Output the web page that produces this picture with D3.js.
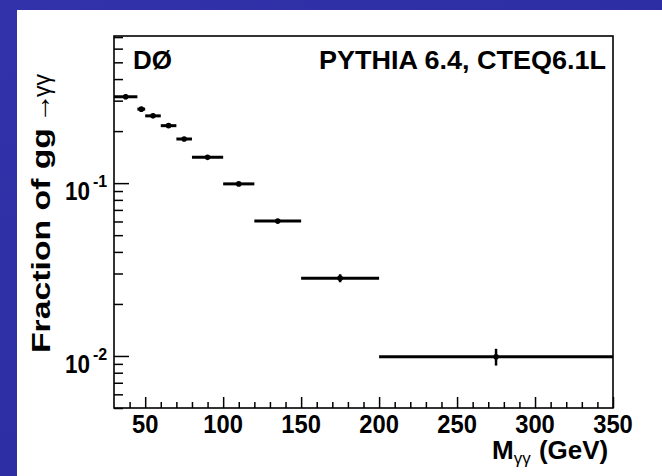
<!DOCTYPE html>
<html>
<head>
<meta charset="utf-8">
<script src="https://d3js.org/d3.v7.min.js"></script>
<style>
  body { margin: 0; background: #2b2ba0; }
  svg { display: block; }
  text { font-family: "Liberation Sans", Arial, sans-serif; fill: #000; }
</style>
</head>
<body>
<script>
// bins of M_gg (GeV) and fraction of gg -> gamma gamma
var binLo = [30, 45, 50, 60, 70, 80, 100, 120, 150, 200];
var binHi = [45, 50, 60, 70, 80, 100, 120, 150, 200, 350];
var frac = [0.316, 0.268, 0.245, 0.215, 0.180, 0.141, 0.099, 0.0603, 0.0282, 0.0099];
var fracErr = [0.010, 0.008, 0.007, 0.006, 0.004, 0.003, 0.002, 0.0012, 0.0015, 0.0011];

var xMajor = [50, 100, 150, 200, 250, 300, 350];
var yMajor = [0.01, 0.1];
var yMajorExp = ["-2", "-1"];

var width = 662, height = 476;
var plotL = 114, plotT = 36, plotR = 613, plotB = 408;

var svg = d3.select("body").append("svg")
  .attr("width", width).attr("height", height);

// slide background
var defs = svg.append("defs");
var grad = defs.append("linearGradient").attr("id", "bg")
  .attr("x1", 0).attr("y1", 0).attr("x2", 1).attr("y2", 1);
grad.append("stop").attr("offset", "0%").attr("stop-color", "#3232aa");
grad.append("stop").attr("offset", "100%").attr("stop-color", "#28289e");
svg.append("rect").attr("width", width).attr("height", height).attr("fill", "url(#bg)");
svg.append("rect").attr("x", 17).attr("y", 10)
  .attr("width", width - 17).attr("height", height - 10).attr("fill", "#fff");

var x = d3.scaleLinear().domain([30, 350]).range([plotL, plotR]);
var y = d3.scaleLog().domain([0.005, 0.71]).range([plotB, plotT]);

// minor ticks
var xMinor = d3.range(40, 350, 10).filter(function(v) { return xMajor.indexOf(v) < 0; });
var yMinor = [];
[0.001, 0.01, 0.1].forEach(function(d) {
  for (var k = 2; k <= 9; k++) {
    var v = +(d * k).toPrecision(3);
    if (v >= 0.005 && v <= 0.71) yMinor.push(v);
  }
});

var g = svg.append("g");

g.append("g").attr("transform", "translate(0," + plotB + ")")
  .call(d3.axisBottom(x).tickValues(xMinor).tickSize(-6).tickFormat(""))
  .call(function(a) { a.select(".domain").remove(); });
g.append("g").attr("transform", "translate(0," + plotB + ")")
  .call(d3.axisBottom(x).tickValues(xMajor).tickSize(-11).tickFormat(""))
  .call(function(a) { a.select(".domain").remove(); });
g.append("g").attr("transform", "translate(" + plotL + ",0)")
  .call(d3.axisLeft(y).tickValues(yMinor).tickSize(-9).tickFormat(""))
  .call(function(a) { a.select(".domain").remove(); });
g.append("g").attr("transform", "translate(" + plotL + ",0)")
  .call(d3.axisLeft(y).tickValues(yMajor).tickSize(-15).tickFormat(""))
  .call(function(a) { a.select(".domain").remove(); });
g.selectAll(".tick line").attr("stroke", "#000").attr("stroke-width", 1.5);

// frame
g.append("rect").attr("x", plotL).attr("y", plotT)
  .attr("width", plotR - plotL).attr("height", plotB - plotT)
  .attr("fill", "none").attr("stroke", "#000").attr("stroke-width", 1.6);

// x tick labels
g.selectAll(".xlab").data(xMajor).enter().append("text")
  .attr("x", function(d) { return x(d) - String(d).length * 6.6; })
  .attr("y", 433)
  .attr("font-size", 26.5).attr("font-weight", "bold")
  .attr("textLength", function(d) { return String(d).length * 13.2; })
  .attr("lengthAdjust", "spacingAndGlyphs")
  .text(function(d) { return d; });

// y tick labels 10^n
yMajor.forEach(function(v, i) {
  g.append("text")
    .attr("x", 65).attr("y", y(v) + 17)
    .attr("font-size", 26.5).attr("font-weight", "bold")
    .attr("textLength", 25).attr("lengthAdjust", "spacingAndGlyphs")
    .text("10");
  g.append("text")
    .attr("x", 93).attr("y", y(v) + 4)
    .attr("font-size", 16).attr("font-weight", "bold")
    .text(yMajorExp[i]);
});

// data: horizontal bin bars, vertical errors, markers
var pts = g.append("g");
pts.selectAll(".hbar").data(frac).enter().append("line")
  .attr("x1", function(d, i) { return x(binLo[i]); })
  .attr("x2", function(d, i) { return x(binHi[i]); })
  .attr("y1", function(d) { return y(d); })
  .attr("y2", function(d) { return y(d); })
  .attr("stroke", "#000").attr("stroke-width", 3);
pts.selectAll(".vbar").data(frac).enter().append("line")
  .attr("x1", function(d, i) { return x((binLo[i] + binHi[i]) / 2); })
  .attr("x2", function(d, i) { return x((binLo[i] + binHi[i]) / 2); })
  .attr("y1", function(d, i) { return y(d - fracErr[i]); })
  .attr("y2", function(d, i) { return y(d + fracErr[i]); })
  .attr("stroke", "#000").attr("stroke-width", 2.5);
pts.selectAll("circle").data(frac).enter().append("circle")
  .attr("cx", function(d, i) { return x((binLo[i] + binHi[i]) / 2); })
  .attr("cy", function(d) { return y(d); })
  .attr("r", 2.8).attr("fill", "#000");

// labels in the frame
g.append("text").attr("x", 133).attr("y", 69)
  .attr("font-size", 26).attr("font-weight", "bold")
  .attr("textLength", 39).attr("lengthAdjust", "spacingAndGlyphs")
  .text("DØ");
g.append("text").attr("x", 319).attr("y", 69)
  .attr("font-size", 26).attr("font-weight", "bold")
  .attr("textLength", 287).attr("lengthAdjust", "spacingAndGlyphs")
  .text("PYTHIA 6.4, CTEQ6.1L");

// axis titles
var xt = g.append("text").attr("x", 492).attr("y", 459)
  .attr("font-size", 26).attr("font-weight", "bold");
xt.append("tspan").text("M");
xt.append("tspan").attr("font-size", 17).attr("font-weight", "normal")
  .attr("dy", 5).text("γγ");
xt.append("tspan").attr("dy", -5).attr("dx", 1).text(" (GeV)");

// y title: bold words, then thin arrow and gammas
g.append("text")
  .attr("transform", "translate(50,353) rotate(-90)")
  .attr("font-size", 25).attr("font-weight", "bold")
  .attr("textLength", 225).attr("lengthAdjust", "spacingAndGlyphs")
  .text("Fraction of gg");
g.append("text")
  .attr("transform", "translate(50,123) rotate(-90) scale(1.15,1.1)")
  .attr("font-size", 26)
  .text("→");
g.append("text")
  .attr("transform", "translate(50,97) rotate(-90)")
  .attr("font-size", 23)
  .text("γγ");
</script>
</body>
</html>
